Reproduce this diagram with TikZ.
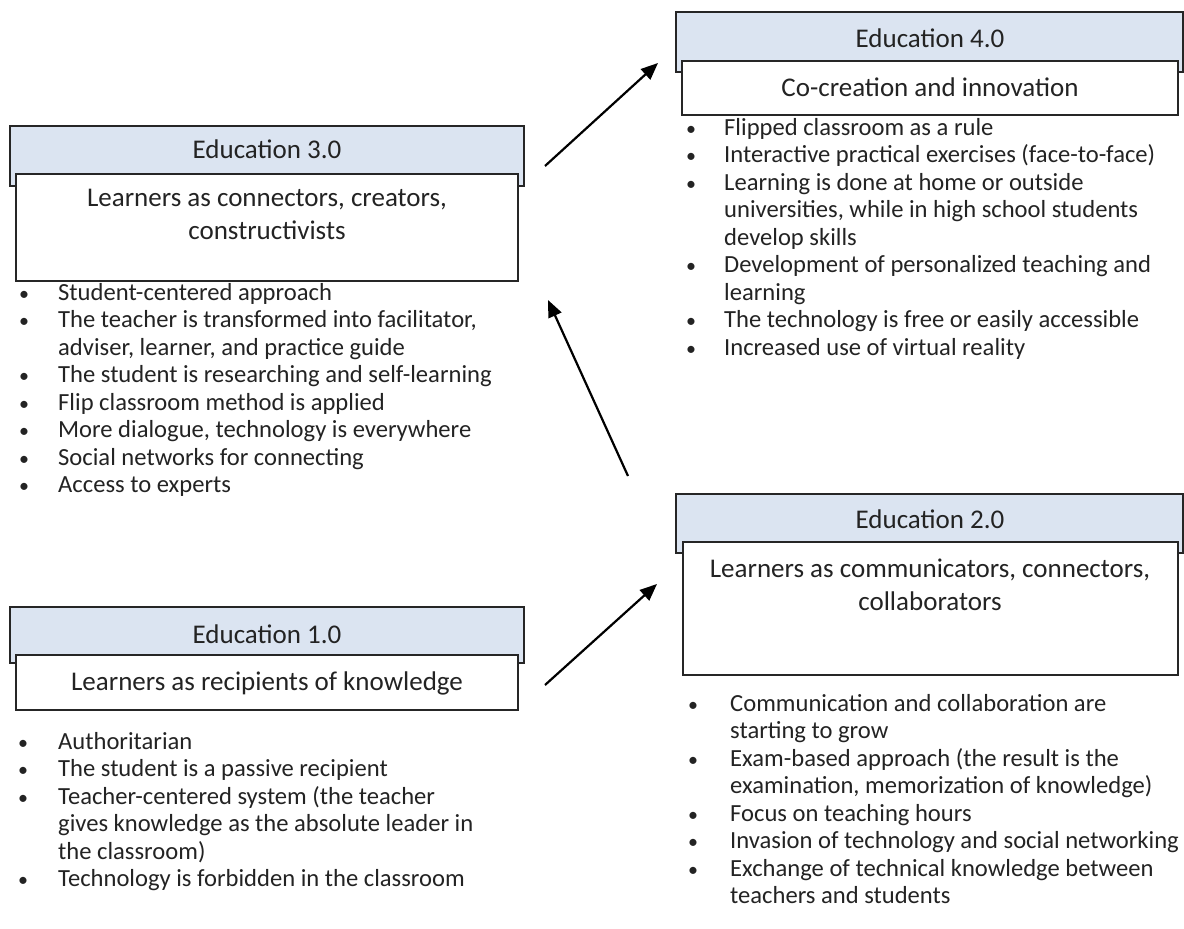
\documentclass[tikz,border=0pt]{standalone}
\usepackage{fontspec}
\setmainfont{Carlito}
\usetikzlibrary{arrows.meta}
\definecolor{hdrblue}{RGB}{219,228,241}
\definecolor{txt}{RGB}{35,35,35}
\newcommand\Itm[5]{\node[bul] (#1b) at (#2,#4) {\textbullet};\node[itm] (#1) at (#3,#4) {#5};}
\newcommand\Cnt[4]{\node[itm] (#1) at (#2,#3) {#4};}
\begin{document}
\begin{tikzpicture}[x=1pt,y=-1pt,
  hdr/.style={draw=black!85,line width=1.3pt,fill=hdrblue,inner sep=0pt,outer sep=0pt,anchor=north west},
  wbox/.style={draw=black!85,line width=1.3pt,fill=white,inner sep=0pt,outer sep=0pt,anchor=north west},
  ttl/.style={font=\fontsize{27}{32}\selectfont,anchor=base,inner sep=0pt,text=txt},
  itm/.style={font=\fontsize{24.6}{30}\selectfont,anchor=base west,inner sep=0pt,text=txt},
  bul/.style={font=\fontsize{20}{24}\selectfont,anchor=base,inner sep=0pt,text=txt},
  arr/.style={line width=2.2pt,-{Triangle[length=17pt,width=14pt]}}]
\useasboundingbox (0,0) rectangle (1184,929);
\fill[white] (0,0) rectangle (1184,929);

% Education 3.0
\node[hdr,minimum width=514pt,minimum height=60pt] (h3) at (10,126) {};
\node[wbox,minimum width=502pt,minimum height=107pt] (w3) at (16,174) {};
\node[ttl] (t3) at (267,158) {Education 3.0};
\node[ttl] (s3a) at (267,206) {Learners as connectors, creators,};
\node[ttl] (s3b) at (267,239) {constructivists};
\Itm{l3a}{24}{58}{300}{Student-centered approach}
\Itm{l3b}{24}{58}{327.5}{The teacher is transformed into facilitator,}
\Cnt{l3c}{58}{355}{adviser, learner, and practice guide}
\Itm{l3d}{24}{58}{382.5}{The student is researching and self-learning}
\Itm{l3e}{24}{58}{410}{Flip classroom method is applied}
\Itm{l3f}{24}{58}{437.5}{More dialogue, technology is everywhere}
\Itm{l3g}{24}{58}{465}{Social networks for connecting}
\Itm{l3h}{24}{58}{492.5}{Access to experts}

% Education 4.0
\node[hdr,minimum width=507pt,minimum height=60pt] (h4) at (676,12) {};
\node[wbox,minimum width=496pt,minimum height=54pt] (w4) at (682,61) {};
\node[ttl] (t4) at (930,47) {Education 4.0};
\node[ttl] (s4) at (930,96) {Co-creation and innovation};
\Itm{l4a}{691}{724}{135}{Flipped classroom as a rule}
\Itm{l4b}{691}{724}{162.5}{Interactive practical exercises (face-to-face)}
\Itm{l4c}{691}{724}{190}{Learning is done at home or outside}
\Cnt{l4d}{724}{217.5}{universities, while in high school students}
\Cnt{l4e}{724}{245}{develop skills}
\Itm{l4f}{691}{724}{272.5}{Development of personalized teaching and}
\Cnt{l4g}{724}{300}{learning}
\Itm{l4h}{691}{724}{327.5}{The technology is free or easily accessible}
\Itm{l4i}{691}{724}{355}{Increased use of virtual reality}

% Education 2.0
\node[hdr,minimum width=507pt,minimum height=59pt] (h2) at (676,494) {};
\node[wbox,minimum width=495pt,minimum height=133pt] (w2) at (683,542) {};
\node[ttl] (t2) at (930,528) {Education 2.0};
\node[ttl] (s2a) at (930,577) {Learners as communicators, connectors,};
\node[ttl] (s2b) at (930,610) {collaborators};
\Itm{l2a}{693}{730}{711}{Communication and collaboration are}
\Cnt{l2b}{730}{738.5}{starting to grow}
\Itm{l2c}{693}{730}{766}{Exam-based approach (the result is the}
\Cnt{l2d}{730}{793.5}{examination, memorization of knowledge)}
\Itm{l2e}{693}{730}{821}{Focus on teaching hours}
\Itm{l2f}{693}{730}{848.5}{Invasion of technology and social networking}
\Itm{l2g}{693}{730}{876}{Exchange of technical knowledge between}
\Cnt{l2h}{730}{903.5}{teachers and students}

% Education 1.0
\node[hdr,minimum width=514pt,minimum height=56pt] (h1) at (10,607) {};
\node[wbox,minimum width=502pt,minimum height=55pt] (w1) at (16,655) {};
\node[ttl] (t1) at (267,643) {Education 1.0};
\node[ttl] (s1) at (267,690) {Learners as recipients of knowledge};
\Itm{l1a}{23}{58}{749}{Authoritarian}
\Itm{l1b}{23}{58}{776.5}{The student is a passive recipient}
\Itm{l1c}{23}{58}{804}{Teacher-centered system (the teacher}
\Cnt{l1d}{58}{831.5}{gives knowledge as the absolute leader in}
\Cnt{l1e}{58}{859}{the classroom)}
\Itm{l1f}{23}{58}{886.5}{Technology is forbidden in the classroom}

% arrows
\coordinate (a1s) at (545,166);
\coordinate (a1e) at (658,63);
\coordinate (a2s) at (628,476);
\coordinate (a2e) at (548,300);
\coordinate (a3s) at (545,685);
\coordinate (a3e) at (657,584);
\draw[arr] (a1s) -- (a1e);
\draw[arr] (a2s) -- (a2e);
\draw[arr] (a3s) -- (a3e);
\end{tikzpicture}
\end{document}
